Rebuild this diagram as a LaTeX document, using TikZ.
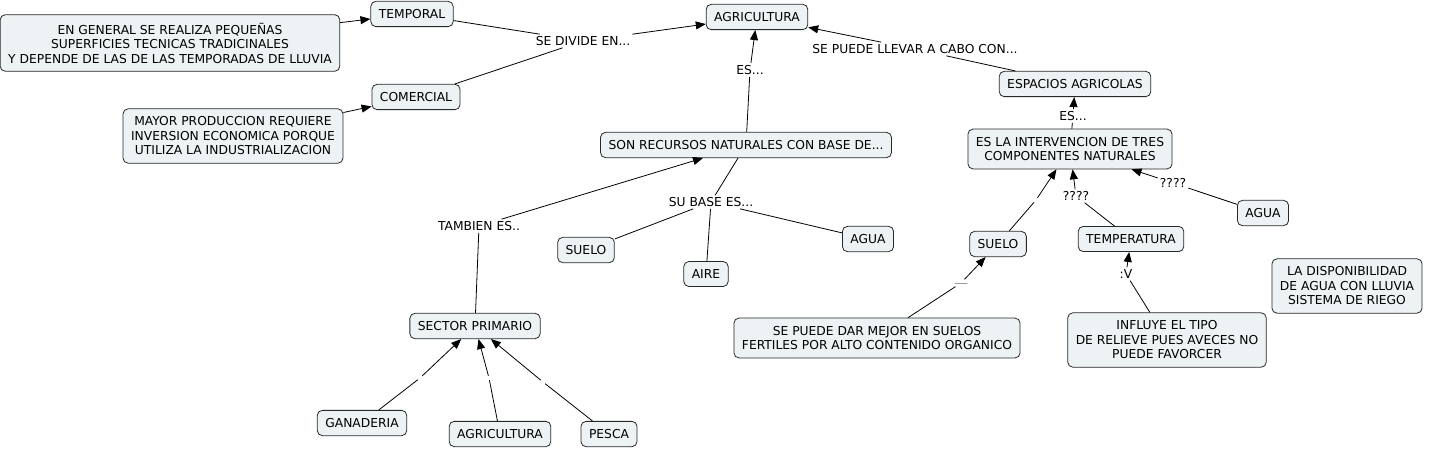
\documentclass[tikz,border=0pt]{standalone}
\usepackage{fontspec}
\setmainfont{DejaVu Sans}
\usetikzlibrary{arrows.meta}

\definecolor{boxfill}{RGB}{237,242,245}
\definecolor{boxline}{RGB}{40,40,40}

\begin{document}
\begin{tikzpicture}[x=1pt, y=-1pt,
    every node/.style={font=\fontsize{12.3}{14.5}\selectfont},
    cbox/.style={draw=boxline, fill=boxfill, rounded corners=5pt, align=center,
                 inner xsep=8pt, inner ysep=8pt, line width=0.8pt},
    linklabel/.style={inner sep=2pt},
    conn/.style={line width=0.8pt},
    arr/.style={conn, -{Triangle[length=10pt,width=8pt]}}]

    \useasboundingbox (0,0) rectangle (1430,449);

    % Top
    \node[cbox] (agricultura) at (757,17) {AGRICULTURA};
    \node[cbox] (temporal) at (412,14) {TEMPORAL};
    \node[cbox] (comercial) at (416,97) {COMERCIAL};
    \node[cbox] (engeneral) at (170,43) {EN GENERAL SE REALIZA PEQUEÑAS\\SUPERFICIES TECNICAS TRADICINALES\\Y DEPENDE DE LAS DE LAS TEMPORADAS DE LLUVIA};
    \node[cbox] (mayor) at (233,136) {MAYOR PRODUCCION REQUIERE\\INVERSION ECONOMICA PORQUE\\UTILIZA LA INDUSTRIALIZACION};
    \node[linklabel] (divide) at (583,41) {SE DIVIDE EN...};

    \draw[arr] (engeneral) -- (temporal);
    \draw[arr] (mayor) -- (comercial);
    \draw[conn] (temporal) -- (divide);
    \draw[conn] (comercial) -- (divide);
    \draw[arr] (divide) -- (agricultura);

    % Recursos naturales
    \node[cbox] (recursos) at (746,145) {SON RECURSOS NATURALES CON BASE DE...};
    \node[linklabel] (es) at (750,70) {ES...};
    \draw[conn] (recursos) -- (es);
    \draw[arr] (es) -- (agricultura);

    \node[linklabel] (subase) at (711,202) {SU BASE ES...};
    \node[cbox] (suelo) at (586,250) {SUELO};
    \node[cbox] (aire) at (706,274) {AIRE};
    \node[cbox] (agua) at (868,239) {AGUA};
    \draw[conn] (recursos) -- (subase);
    \draw[conn] (subase) -- (suelo);
    \draw[conn] (subase) -- (aire);
    \draw[conn] (subase) -- (agua);

    % Sector primario
    \node[cbox] (sector) at (475,326) {SECTOR PRIMARIO};
    \node[linklabel] (tambien) at (479,226) {TAMBIEN ES..};
    \draw[conn] (sector) -- (tambien);
    \draw[arr] (tambien) -- (recursos);

    \node[cbox] (ganaderia) at (362,423) {GANADERIA};
    \node[cbox] (agri2) at (500,434) {AGRICULTURA};
    \node[cbox] (pesca) at (609,434) {PESCA};
    \node[linklabel] (lganaderia) at (420,378) {};
    \node[linklabel] (lagri2) at (489,378) {};
    \node[linklabel] (lpesca) at (543,382) {};
    \draw[conn] (ganaderia) -- (lganaderia);
    \draw[arr] (lganaderia) -- (sector);
    \draw[conn] (agri2) -- (lagri2);
    \draw[arr] (lagri2) -- (sector);
    \draw[conn] (pesca) -- (lpesca);
    \draw[arr] (lpesca) -- (sector);

    % Espacios agricolas
    \node[cbox] (espacios) at (1075,84) {ESPACIOS AGRICOLAS};
    \node[linklabel] (llevar) at (915,49) {SE PUEDE LLEVAR A CABO CON...};
    \draw[conn] (espacios) -- (llevar);
    \draw[arr] (llevar) -- (agricultura);

    \node[cbox] (intervencion) at (1070,149) {ES LA INTERVENCION DE TRES\\COMPONENTES NATURALES};
    \node[linklabel] (es2) at (1073,116) {ES...};
    \draw[conn] (intervencion) -- (es2);
    \draw[arr] (es2) -- (espacios);

    % Componentes
    \node[cbox] (suelo2) at (998,244) {SUELO};
    \node[cbox] (temperatura) at (1131,239) {TEMPERATURA};
    \node[cbox] (agua2) at (1263,213) {AGUA};
    \node[linklabel] (lsuelo2) at (1036,200) {};
    \node[linklabel] (ltemp) at (1076,196) {????};
    \node[linklabel] (lagua2) at (1173,183) {????};
    \draw[conn] (suelo2) -- (lsuelo2);
    \draw[arr] (lsuelo2) -- (intervencion);
    \draw[conn] (temperatura) -- (ltemp);
    \draw[arr] (ltemp) -- (intervencion);
    \draw[conn] (agua2) -- (lagua2);
    \draw[arr] (lagua2) -- (intervencion);

    \node[cbox] (fertiles) at (877,338) {SE PUEDE DAR MEJOR EN SUELOS\\FERTILES POR ALTO CONTENIDO ORGANICO};
    \node[linklabel, text=black!45] (lfertiles) at (961,283) {\_\_};
    \draw[conn] (fertiles) -- (lfertiles);
    \draw[arr] (lfertiles) -- (suelo2);

    \node[cbox] (relieve) at (1167,340) {INFLUYE EL TIPO\\DE RELIEVE PUES AVECES NO\\PUEDE FAVORCER};
    \node[linklabel] (lrelieve) at (1126,274) {:V};
    \draw[conn] (relieve) -- (lrelieve);
    \draw[arr] (lrelieve) -- (temperatura);

    \node[cbox] (disponibilidad) at (1347,286) {LA DISPONIBILIDAD\\DE AGUA CON LLUVIA\\SISTEMA DE RIEGO};

\end{tikzpicture}
\end{document}
